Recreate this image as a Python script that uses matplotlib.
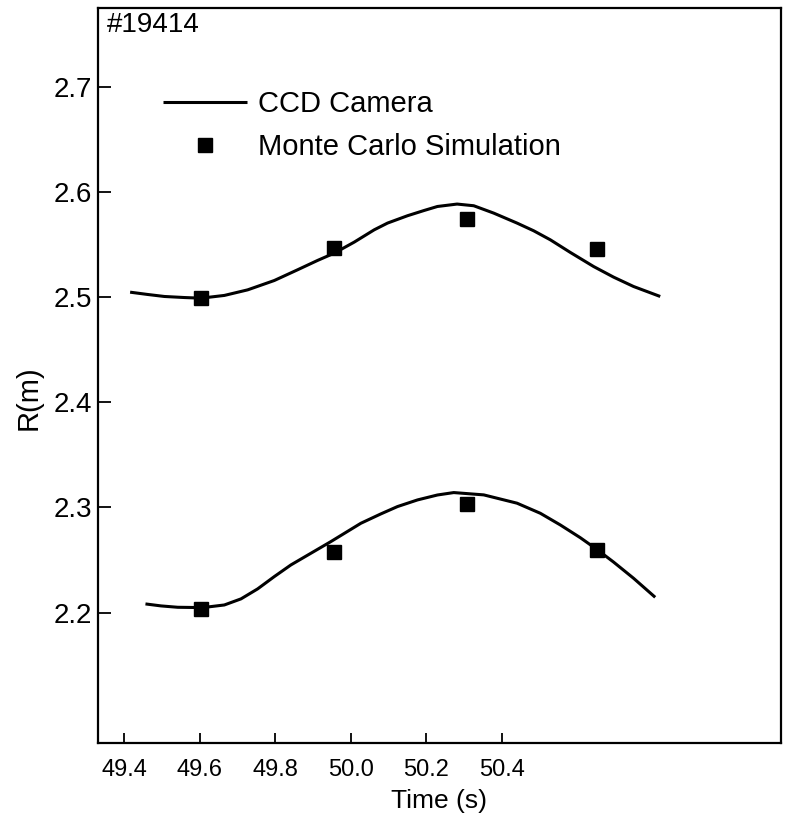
import matplotlib
matplotlib.use("Agg")
import matplotlib.pyplot as plt

plt.rcParams['font.family'] = ['Liberation Sans', 'DejaVu Sans']

# CCD camera curves (upper and lower)
upper_t = [49.4149, 49.4617, 49.5059, 49.5589, 49.6030, 49.6648, 49.7266, 49.7973,
           49.8591, 49.9121, 49.9562, 50.0092, 50.0622, 50.0975, 50.1505, 50.1946,
           50.2299, 50.2820, 50.3262, 50.3791, 50.4410, 50.4851, 50.5293, 50.5823,
           50.6441, 50.6971, 50.7500, 50.8207]
upper_r = [2.5047, 2.5025, 2.5006, 2.4996, 2.4990, 2.5016, 2.5069, 2.5158,
           2.5260, 2.5349, 2.5418, 2.5523, 2.5640, 2.5704, 2.5774, 2.5824,
           2.5862, 2.5885, 2.5869, 2.5799, 2.5704, 2.5631, 2.5545, 2.5425,
           2.5291, 2.5190, 2.5101, 2.5006]
lower_t = [49.4556, 49.4970, 49.5412, 49.6074, 49.6648, 49.7090, 49.7531, 49.7973,
           49.8414, 49.8944, 49.9474, 50.0268, 50.0798, 50.1240, 50.1770, 50.2299,
           50.2732, 50.3527, 50.4410, 50.5028, 50.5558, 50.6087, 50.6529, 50.6970,
           50.7500, 50.8074]
lower_r = [2.2082, 2.2063, 2.2050, 2.2047, 2.2072, 2.2130, 2.2225, 2.2342,
           2.2453, 2.2564, 2.2675, 2.2849, 2.2938, 2.3008, 2.3071, 2.3118,
           2.3141, 2.3119, 2.3040, 2.2944, 2.2833, 2.2712, 2.2600, 2.2480,
           2.2326, 2.2145]

# Monte Carlo simulation points
mc_t = [49.604, 49.956, 50.308, 50.653]
mc_upper = [2.499, 2.5466, 2.5745, 2.5457]
mc_lower = [2.2031, 2.258, 2.303, 2.2596]

xticks = [49.4, 49.6, 49.8, 50.0, 50.2, 50.4]
xticklabels = ['49.4', '49.6', '49.8', '50.0', '50.2', '50.4']
yticks = [2.2, 2.3, 2.4, 2.5, 2.6, 2.7]
yticklabels = ['2.2', '2.3', '2.4', '2.5', '2.6', '2.7']

fig = plt.figure(figsize=(7.9, 8.22), dpi=100)
ax = fig.add_axes([0.1237, 0.0957, 0.8649, 0.8946])

ax.plot(upper_t, upper_r, color='black', lw=2.2, solid_capstyle='butt',
        solid_joinstyle='round', label='CCD Camera')
ax.plot(lower_t, lower_r, color='black', lw=2.2, solid_capstyle='butt',
        solid_joinstyle='round')
ax.plot(mc_t, mc_upper, ls='none', marker='s', ms=9.5, color='black',
        label='Monte Carlo Simulation')
ax.plot(mc_t, mc_lower, ls='none', marker='s', ms=9.5, color='black')

ax.set_xlim(49.329, 51.141)
ax.set_ylim(2.0756, 2.775)
ax.set_xticks(xticks)
ax.set_xticklabels(xticklabels)
ax.set_yticks(yticks)
ax.set_yticklabels(yticklabels)
ax.tick_params(axis='x', direction='in', length=7, width=1.3, labelsize=17, pad=11)
ax.tick_params(axis='y', direction='in', length=9, width=1.3, labelsize=20, pad=4)
for s in ax.spines.values():
    s.set_linewidth(1.6)

ax.set_xlabel('Time (s)', fontsize=19, labelpad=6)
ax.set_ylabel('R(m)', fontsize=21)
ax.yaxis.set_label_coords(-0.08, 0.47)

ax.text(0.013, 0.994, '#19414', transform=ax.transAxes, fontsize=20,
        ha='left', va='top')

leg = ax.legend(loc='upper left', bbox_to_anchor=(0.0957, 0.888), frameon=False,
                fontsize=21, handlelength=2.88, handletextpad=0.38,
                labelspacing=0.51, borderpad=0, borderaxespad=0)

fig.savefig('out.png', dpi=100)
